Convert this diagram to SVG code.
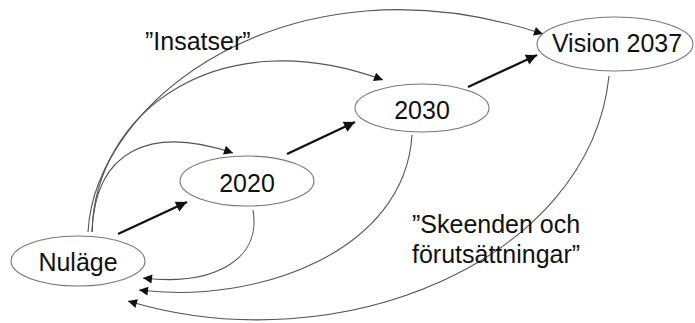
<svg xmlns="http://www.w3.org/2000/svg" width="695" height="323" viewBox="0 0 695 323">
<style>
.node{fill:#fff;stroke:#777;stroke-width:1.1}
.lbl{font-family:"Liberation Sans",Arial,sans-serif;font-size:25px;fill:#111;text-anchor:middle}
.note{font-family:"Liberation Sans",Arial,sans-serif;font-size:25px;fill:#111}
.thin{fill:none;stroke:#555;stroke-width:1.1}
.thick{fill:none;stroke:#111;stroke-width:2.3}
</style>
<defs>
<marker id="ah" viewBox="0 0 10 10" refX="10" refY="5" markerWidth="12" markerHeight="9" markerUnits="userSpaceOnUse" orient="auto"><path d="M0,0 L10,5 L0,10 Z" fill="#111"/></marker>
<marker id="ahb" viewBox="0 0 10 10" refX="10" refY="5" markerWidth="14" markerHeight="11" markerUnits="userSpaceOnUse" orient="auto"><path d="M0,0 L10,5 L0,10 Z" fill="#111"/></marker>
</defs>
<g id="connectors">
<path class="thin" d="M88,232 C95,100 290,-50 543,34" marker-end="url(#ah)"/>
<path class="thin" d="M92,232 C95,110 220,20 383,80" marker-end="url(#ah)"/>
<path class="thin" d="M92,232 C95,150 150,125 233,153" marker-end="url(#ah)"/>
<path class="thick" d="M118,234 L187,202" marker-end="url(#ahb)"/>
<path class="thick" d="M287,154 L355,122" marker-end="url(#ahb)"/>
<path class="thick" d="M468,87 L537,55" marker-end="url(#ahb)"/>
<path class="thin" d="M253,210 C262,262 210,286 143,278" marker-end="url(#ah)"/>
<path class="thin" d="M412,135 C405,250 260,305 139,290" marker-end="url(#ah)"/>
<path class="thin" d="M609,76 C590,260 340,365 128,301" marker-end="url(#ah)"/>
</g>
<g id="nulage"><ellipse class="node" cx="78" cy="261" rx="67" ry="25"/><text class="lbl" x="78" y="271">Nuläge</text></g>
<g id="n2020"><ellipse class="node" cx="247" cy="181" rx="67" ry="25"/><text class="lbl" x="247" y="192">2020</text></g>
<g id="n2030"><ellipse class="node" cx="422" cy="108" rx="67" ry="24"/><text class="lbl" x="422" y="119">2030</text></g>
<g id="vision"><ellipse class="node" cx="615" cy="44" rx="78" ry="27"/><text class="lbl" x="617" y="52">Vision 2037</text></g>
<text class="note" x="145" y="50">”Insatser”</text>
<text class="note" x="412" y="233">”Skeenden och</text>
<text class="note" x="412" y="263">förutsättningar”</text>
</svg>
